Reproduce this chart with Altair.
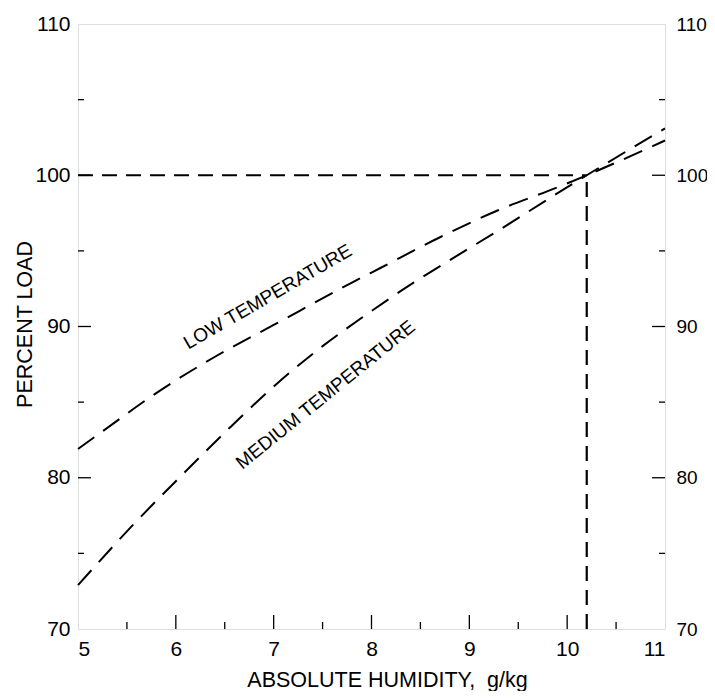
import altair as alt
import pandas as pd

# ---- data ----
low_x = [5.0, 5.3, 5.8, 6.4, 7.0, 7.8, 8.1, 8.7, 9.3, 9.9, 10.2, 11.0]
low_y = [81.9, 83.3, 85.6, 88.0, 90.1, 92.9, 93.9, 95.9, 97.7, 99.2, 100.0, 102.3]
med_x = [5.0, 5.55, 6.05, 6.55, 7.03, 7.5, 7.95, 8.43, 8.88, 9.31, 9.8, 10.2, 11.0]
med_y = [72.9, 76.8, 80.1, 83.3, 86.2, 88.7, 90.8, 92.9, 94.7, 96.4, 98.4, 100.0, 103.1]

ref_x = 10.2
ref_y = 100.0
x_start = 5.0
y_start = 70.0

x_ticks = [5, 6, 7, 8, 9, 10, 11]
y_ticks = [70, 80, 90, 100, 110]
x_major = [6, 7, 8, 9, 10]
x_minor = [5.5, 6.5, 7.5, 8.5, 9.5, 10.5]
y_major = [80, 90, 100]
y_minor = [75, 85, 95, 105]

label_text = ["LOW TEMPERATURE", "MEDIUM TEMPERATURE"]
label_x = [6.94, 7.53]
label_y = [91.96, 85.48]

W, H = 587, 605
FONT = "Liberation Sans"

xs = alt.Scale(domain=[5, 11], nice=False, zero=False)
ys = alt.Scale(domain=[70, 110], nice=False, zero=False)

low_df = pd.DataFrame({"x": low_x, "y": low_y})
med_df = pd.DataFrame({"x": med_x, "y": med_y})

x_axis = alt.Axis(values=x_ticks, ticks=False, tickSize=0, domain=False, grid=False,
                  labelFontSize=21, labelPadding=9, labelFont=FONT, labelColor="black",
                  title="ABSOLUTE HUMIDITY,\u00a0 g/kg", titleFont=FONT, titleFontSize=21.5,
                  titleFontWeight="normal", titleColor="black",
                  titleX=309, titleY=57, titleBaseline="alphabetic", titleAlign="center")
y_axis_left = alt.Axis(values=y_ticks, ticks=False, tickSize=0, domain=False, grid=False,
                       labelFontSize=21, labelPadding=8, labelFont=FONT, labelColor="black",
                       title="PERCENT LOAD", titleFont=FONT, titleFontSize=21.5,
                       titleFontWeight="normal", titleColor="black",
                       titleX=-47, titleY=300, titleAngle=-90, titleBaseline="alphabetic",
                       titleAlign="center")
y_axis_right = alt.Axis(orient="right", values=y_ticks, ticks=False, tickSize=0, domain=False,
                        grid=False, labelFontSize=19, labelPadding=11, labelFont=FONT,
                        labelColor="black", title=None)


def X(field="x"):
    return alt.X(f"{field}:Q", scale=xs, axis=x_axis)


low_line = alt.Chart(low_df).mark_line(
    color="black", strokeWidth=2, strokeDash=[20, 11], interpolate="monotone"
).encode(
    x=X(),
    y=alt.Y("y:Q", scale=ys, axis=y_axis_left),
)

med_line = alt.Chart(med_df).mark_line(
    color="black", strokeWidth=2, strokeDash=[20, 11], interpolate="monotone"
).encode(
    x=X(),
    y=alt.Y("y:Q", scale=ys, axis=y_axis_right),
)

hline_df = pd.DataFrame({"x": [x_start], "x2": [ref_x], "y": [ref_y]})
vline_df = pd.DataFrame({"x": [ref_x], "y": [y_start], "y2": [ref_y]})

hline = alt.Chart(hline_df).mark_rule(color="black", strokeWidth=2.2, strokeDash=[15, 9]).encode(
    x=X(), x2="x2:Q",
    y=alt.Y("y:Q", scale=ys, axis=None),
)
vline = alt.Chart(vline_df).mark_rule(color="black", strokeWidth=2.2, strokeDash=[15, 9]).encode(
    x=X(),
    y=alt.Y("y:Q", scale=ys, axis=None), y2="y2:Q",
)


def xtick_layer(vals, length):
    df = pd.DataFrame({"x": vals})
    return alt.Chart(df).mark_rule(color="black", strokeWidth=1.3).encode(
        x=X(),
        y=alt.value(H), y2=alt.value(H - length),
    )


def ytick_layer(vals, length, right=False):
    df = pd.DataFrame({"y": vals})
    if right:
        xa, xb = W, W - length
    else:
        xa, xb = 0, length
    return alt.Chart(df).mark_rule(color="black", strokeWidth=1.3).encode(
        y=alt.Y("y:Q", scale=ys, axis=None),
        x=alt.value(xa), x2=alt.value(xb),
    )


ticks = [
    xtick_layer(x_major, 14), xtick_layer(x_minor, 7),
    ytick_layer(y_major, 13), ytick_layer(y_minor, 6),
    ytick_layer(y_major, 13, right=True), ytick_layer(y_minor, 6, right=True),
]

low_lab = alt.Chart(pd.DataFrame({"x": [label_x[0]], "y": [label_y[0]], "t": [label_text[0]]})).mark_text(
    font=FONT, fontSize=19, angle=330, align="center", baseline="middle", color="black"
).encode(x=X(), y=alt.Y("y:Q", scale=ys, axis=None), text="t:N")

med_lab = alt.Chart(pd.DataFrame({"x": [label_x[1]], "y": [label_y[1]], "t": [label_text[1]]})).mark_text(
    font=FONT, fontSize=19, angle=321, align="center", baseline="middle", color="black"
).encode(x=X(), y=alt.Y("y:Q", scale=ys, axis=None), text="t:N")

chart = alt.layer(
    low_line, med_line, hline, vline, *ticks, low_lab, med_lab
).resolve_axis(y="independent").properties(
    width=W, height=H,
    autosize=alt.AutoSizeParams(type="none"),
    padding={"left": 70, "top": 16, "right": 42, "bottom": 62},
).configure_view(
    stroke="black", strokeWidth=1.6
).configure(background="white")

chart.save("out.html", embed_options={"renderer": "svg", "actions": False})
